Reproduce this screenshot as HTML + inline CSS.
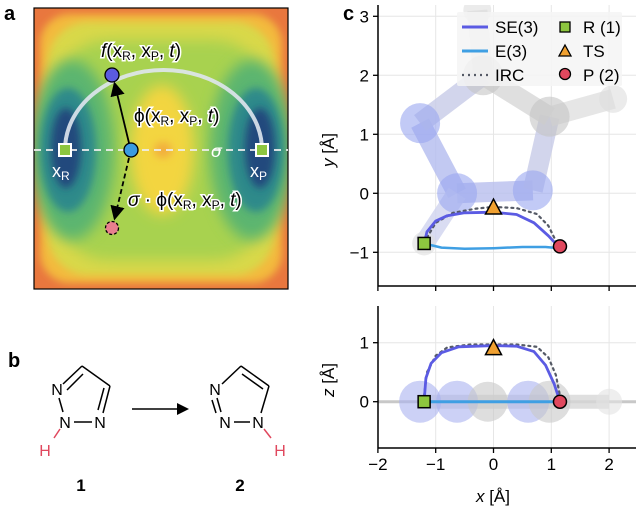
<!DOCTYPE html>
<html><head><meta charset="utf-8"><style>
body{margin:0;background:#fff;}
svg{display:block;font-family:"Liberation Sans","DejaVu Sans",sans-serif;}
</style></head><body>
<svg id="fig" width="636" height="510" viewBox="0 0 636 510" xmlns="http://www.w3.org/2000/svg">
<defs>
<filter id="bl" x="-50%" y="-50%" width="200%" height="200%"><feGaussianBlur stdDeviation="7"/></filter>
<filter id="bl2" x="-50%" y="-50%" width="200%" height="200%"><feGaussianBlur stdDeviation="4"/></filter>
<clipPath id="clipA"><rect x="34" y="8" width="254" height="281"/></clipPath>
<clipPath id="clipT"><rect x="378" y="5" width="258" height="281"/></clipPath>
<clipPath id="clipB"><rect x="378" y="306" width="258" height="142"/></clipPath>
<marker id="ah" markerWidth="8" markerHeight="8" refX="6" refY="4" orient="auto"><path d="M0,0 L8,4 L0,8 Z" fill="#000"/></marker>
</defs>

<text x="4" y="20" font-size="20" font-weight="bold">a</text>
<g clip-path="url(#clipA)">
<rect x="34" y="8" width="254" height="281" fill="#e9773e"/>
<rect x="40" y="14" width="242" height="269" rx="30" fill="#f3b93e" filter="url(#bl2)"/>
<rect x="48" y="22" width="226" height="253" rx="40" fill="#d9d84a" filter="url(#bl2)"/>
<rect x="58" y="40" width="206" height="220" rx="50" fill="#a8d250" filter="url(#bl)"/>
<ellipse cx="72" cy="150" rx="42" ry="90" fill="#5cb570" filter="url(#bl)"/>
<ellipse cx="252" cy="150" rx="42" ry="90" fill="#5cb570" filter="url(#bl)"/>
<ellipse cx="68" cy="150" rx="28" ry="62" fill="#2f8a8a" filter="url(#bl2)"/>
<ellipse cx="256" cy="150" rx="28" ry="62" fill="#2f8a8a" filter="url(#bl2)"/>
<ellipse cx="66" cy="148" rx="15" ry="40" fill="#214a7d" filter="url(#bl2)"/>
<ellipse cx="260" cy="148" rx="15" ry="40" fill="#214a7d" filter="url(#bl2)"/>
<ellipse cx="162" cy="150" rx="32" ry="65" fill="#f3d53f" filter="url(#bl)"/>
<ellipse cx="163" cy="150" rx="9" ry="8" fill="#f2ae3e" filter="url(#bl2)"/>
</g>
<rect x="34" y="8" width="254" height="281" fill="none" stroke="#000" stroke-width="1.2"/>
<line x1="34" y1="150" x2="288" y2="150" stroke="#eee" stroke-width="1.8" stroke-dasharray="7,5"/>
<path d="M65,150 A98.5,80 0 0 1 262,150" fill="none" stroke="#dfe6ee" stroke-width="4" opacity="0.9"/>
<rect x="59" y="144" width="12" height="12" fill="#8dc63f" stroke="#fff" stroke-width="2"/>
<rect x="256" y="144" width="12" height="12" fill="#8dc63f" stroke="#fff" stroke-width="2"/>
<text x="52" y="177" font-size="18" fill="#fff">x<tspan font-size="12" dy="3">R</tspan></text>
<text x="250" y="177" font-size="18" fill="#fff">x<tspan font-size="12" dy="3">P</tspan></text>
<text x="211" y="157" font-size="18" font-style="italic" fill="#fff">σ</text>
<line x1="129" y1="143" x2="115" y2="85" stroke="#000" stroke-width="1.8" marker-end="url(#ah)"/>
<line x1="129" y1="158" x2="115" y2="217" stroke="#000" stroke-width="1.8" stroke-dasharray="5,3" marker-end="url(#ah)"/>
<circle cx="112" cy="75" r="7" fill="#5b5be0" stroke="#000" stroke-width="1.3"/>
<circle cx="131" cy="150" r="7" fill="#3b9be0" stroke="#000" stroke-width="1.3"/>
<circle cx="112" cy="228" r="6.5" fill="#e8808e" stroke="#000" stroke-width="1.3" stroke-dasharray="3,2"/>
<g font-size="19" fill="#000" stroke="#fff" stroke-width="3" paint-order="stroke">
<text x="101" y="57"><tspan font-style="italic">f</tspan>(x<tspan font-size="12" dy="3">R</tspan><tspan dy="-3">, x</tspan><tspan font-size="12" dy="3">P</tspan><tspan dy="-3">, </tspan><tspan font-style="italic">t</tspan>)</text>
<text x="134" y="122">ϕ(x<tspan font-size="12" dy="3">R</tspan><tspan dy="-3">, x</tspan><tspan font-size="12" dy="3">P</tspan><tspan dy="-3">, </tspan><tspan font-style="italic">t</tspan>)</text>
<text x="128" y="206"><tspan font-style="italic">σ</tspan> · ϕ(x<tspan font-size="12" dy="3">R</tspan><tspan dy="-3">, x</tspan><tspan font-size="12" dy="3">P</tspan><tspan dy="-3">, </tspan><tspan font-style="italic">t</tspan>)</text>
</g>

<text x="8" y="367" font-size="20" font-weight="bold">b</text>
<g stroke="#000" stroke-width="1.5" fill="none">
<line x1="63" y1="384" x2="82" y2="366"/><line x1="67" y1="390" x2="83" y2="374"/>
<line x1="82" y1="366" x2="110" y2="386"/>
<line x1="110" y1="386" x2="103" y2="413"/><line x1="104" y1="388" x2="98" y2="410"/>
<line x1="74" y1="422" x2="92" y2="422"/>
<line x1="59" y1="398" x2="63" y2="412"/>
<line x1="60" y1="429" x2="54" y2="438" stroke="#e0485e"/>
</g>
<g font-size="16" text-anchor="middle">
<text x="57" y="395">N</text><text x="65" y="428">N</text><text x="100" y="428">N</text>
<text x="45" y="456" fill="#e0485e">H</text>
<text x="215" y="395">N</text><text x="225" y="428">N</text><text x="258" y="428">N</text>
<text x="280" y="456" fill="#e0485e">H</text>
<text x="81" y="491" font-weight="bold" font-size="17">1</text>
<text x="240" y="491" font-weight="bold" font-size="17">2</text>
</g>
<g stroke="#000" stroke-width="1.5" fill="none">
<line x1="222" y1="384" x2="241" y2="366"/>
<line x1="241" y1="366" x2="269" y2="386"/><line x1="242" y1="374" x2="263" y2="389"/>
<line x1="269" y1="386" x2="261" y2="413"/>
<line x1="234" y1="422" x2="250" y2="422"/>
<line x1="217" y1="398" x2="221" y2="412"/><line x1="212" y1="400" x2="216" y2="413"/>
<line x1="264" y1="429" x2="271" y2="438" stroke="#e0485e"/>
</g>
<line x1="132" y1="409" x2="186" y2="409" stroke="#000" stroke-width="1.5" marker-end="url(#ah)"/>

<text x="343" y="20" font-size="20" font-weight="bold">c</text>
<g id="topPlot"></g>
<g id="botPlot"></g>
</svg>
<script>
const NS='http://www.w3.org/2000/svg';
const xTicks=[-2,-1,0,1,2];
const yTicksTop=[-1,0,1,2,3];
const yTicksBot=[0,1];
const seXY_x=[-1.2,-1.15,-1.0,-0.8,-0.5,0,0.4,0.7,0.95,1.15];
const seXY_y=[-0.85,-0.65,-0.47,-0.38,-0.33,-0.32,-0.36,-0.5,-0.72,-0.93];
const e3XY_x=[-1.2,-0.9,-0.5,0,0.5,0.9,1.15];
const e3XY_y=[-0.85,-0.92,-0.94,-0.93,-0.91,-0.91,-0.93];
const ircXY_x=[-1.15,-1.0,-0.7,-0.3,0,0.4,0.75,0.95,1.1];
const ircXY_y=[-0.75,-0.5,-0.33,-0.26,-0.23,-0.25,-0.35,-0.55,-0.85];
const seXZ_x=[-1.2,-1.17,-1.08,-0.9,-0.6,0,0.4,0.7,0.9,1.05,1.15];
const seXZ_z=[0,0.4,0.65,0.83,0.93,0.95,0.94,0.85,0.62,0.3,0];
const e3XZ_x=[-1.2,0,1.15];
const e3XZ_z=[0,0,0];
const ircXZ_x=[-1.2,-1.15,-1.0,-0.8,-0.4,0,0.4,0.75,0.95,1.08,1.15];
const ircXZ_z=[0.1,0.5,0.78,0.92,0.97,0.97,0.97,0.93,0.75,0.45,0.1];
const rPt=[-1.2,-0.85], tsPt=[0,-0.25], pPt=[1.15,-0.9];
const rPtZ=[-1.2,0], tsPtZ=[0,0.9], pPtZ=[1.15,0];

const X=v=>493.5+v*57.8;
const Yt=v=>193.3-v*59;
const Yb=v=>401.7-v*59;

function el(tag,attrs,parent){const e=document.createElementNS(NS,tag);for(const k in attrs)e.setAttribute(k,attrs[k]);parent.appendChild(e);return e;}
function pathD(xs,ys,Y){return xs.map((x,i)=>(i?'L':'M')+X(x).toFixed(1)+','+Y(ys[i]).toFixed(1)).join(' ');}

function grid(g,Y,yTicks,y0,y1){
  const gg=el('g',{},g);
  xTicks.forEach(t=>{el('line',{x1:X(t),x2:X(t),y1:y0,y2:y1,stroke:'#e6e6e6','stroke-width':1},gg);});
  yTicks.forEach(t=>{el('line',{x1:378,x2:636,y1:Y(t),y2:Y(t),stroke:'#e6e6e6','stroke-width':1},gg);});
}
function spines(g,Y,yTicks,y0,y1,ylabel,showXLabels,ylabY){
  el('line',{x1:378,x2:378,y1:y0,y2:y1,stroke:'#000','stroke-width':1.5},g);
  el('line',{x1:378,x2:636,y1:y1,y2:y1,stroke:'#000','stroke-width':1.5},g);
  xTicks.forEach(t=>{
    el('line',{x1:X(t),x2:X(t),y1:y1,y2:y1+5,stroke:'#000','stroke-width':1.3},g);
    if(showXLabels){const tx=el('text',{x:X(t),y:y1+22,'font-size':17,'text-anchor':'middle'},g);tx.textContent=(t<0?'\u2212'+(-t):String(t));
      
      }
  });
  yTicks.forEach(t=>{
    el('line',{x1:373,x2:378,y1:Y(t),y2:Y(t),stroke:'#000','stroke-width':1.3},g);
    const tx=el('text',{x:369,y:Y(t)+6,'font-size':17,'text-anchor':'end'},g);tx.textContent=(t<0?'\u2212'+(-t):String(t));
    
    
  });
  const yl=el('text',{x:0,y:0,'font-size':17,'text-anchor':'middle',transform:'translate(334,'+ylabY+') rotate(-90)'},g);
  const ts=el('tspan',{'font-style':'italic'},yl);ts.textContent=ylabel;
  const ts2=el('tspan',{},yl);ts2.textContent=' [Å]';
  
  
}
function atom(g,cx,cy,r,c){el('circle',{cx:cx,cy:cy,r:r,fill:c,opacity:0.6},g);}
function series(g,xs,ys,Y,stroke,w,dash,name){
  const p=el('path',{d:pathD(xs,ys,Y),fill:'none',stroke:stroke,'stroke-width':w,'stroke-linecap':'round','stroke-linejoin':'round'},g);
  if(dash)p.setAttribute('stroke-dasharray',dash);
  
  
}
function markers(g,r,ts,p,Y){
  const a=el('rect',{x:X(r[0])-6,y:Y(r[1])-6,width:12,height:12,fill:'#8dc63f',stroke:'#000','stroke-width':1.5},g);
  
  
  const cx=X(ts[0]),cy=Y(ts[1]);
  const b=el('path',{d:'M'+cx+','+(cy-9)+' L'+(cx+8)+','+(cy+6)+' L'+(cx-8)+','+(cy+6)+' Z',fill:'#f0a030',stroke:'#000','stroke-width':1.5},g);
  
  
  const c=el('circle',{cx:X(p[0]),cy:Y(p[1]),r:6.5,fill:'#e0485e',stroke:'#000','stroke-width':1.5},g);
  
  
}

const topG=document.getElementById('topPlot');
grid(topG,Yt,yTicksTop,5,286);
const molT=el('g',{'clip-path':'url(#clipT)'},topG);


[[X(-1.27),Yt(1.19),X(-0.63),Yt(0),'#b4bcf0'],[X(-0.63),Yt(0),X(0.68),Yt(0.05),'#b8bfee'],[X(0.68),Yt(0.05),X(0.97),Yt(1.3),'#c8cbe8'],[X(0.97),Yt(1.3),X(-0.18),Yt(2.0),'#d8d8d8'],[X(-1.27),Yt(1.19),X(-0.18),Yt(2.0),'#c8cbe8'],[X(-0.18),Yt(2.0),X(-0.28),Yt(3.1),'#e0e0e0'],[X(0.97),Yt(1.3),X(2.07),Yt(1.6),'#e0e0e0'],[X(-0.63),Yt(0),X(-1.2),Yt(-0.85),'#d0d4f0']].forEach(b=>{
  el('line',{x1:b[0],y1:b[1],x2:b[2],y2:b[3],stroke:b[4],'stroke-width':20,opacity:0.8},molT);});
atom(molT,X(-1.27),Yt(1.19),20,'#9aa6f0');
atom(molT,X(-0.63),Yt(0),20,'#9aa6f0');
atom(molT,X(0.68),Yt(0.05),20,'#9aa6f0');
atom(molT,X(0.97),Yt(1.3),20,'#c4c4c4');
atom(molT,X(-0.18),Yt(2.0),20,'#c4c4c4');
atom(molT,X(-0.28),Yt(3.1),14,'#dedede');
atom(molT,X(2.07),Yt(1.6),14,'#dedede');
atom(molT,X(-1.2),Yt(-0.85),12,'#dedede');
series(topG,ircXY_x,ircXY_y,Yt,'#555a66',2.2,'2,4','irc-xy-line');
series(topG,e3XY_x,e3XY_y,Yt,'#3f9fe3',2.5,null,'e3-xy-line');
series(topG,seXY_x,seXY_y,Yt,'#5b5be3',2.8,null,'se3-xy-line');
markers(topG,rPt,tsPt,pPt,Yt);
spines(topG,Yt,yTicksTop,5,286,'y',false,150);

const lg=el('g',{},topG);


el('rect',{x:457,y:12,width:165,height:74,fill:'#f4f4f4',opacity:0.85,rx:2},lg);
[['SE(3)','#5b5be3',null],['E(3)','#3f9fe3',null],['IRC','#555a66','2,4']].forEach((d,i)=>{
  const y=27+i*24;
  const l=el('line',{x1:462,x2:488,y1:y,y2:y,stroke:d[1],'stroke-width':d[2]?2.2:3},lg);
  if(d[2])l.setAttribute('stroke-dasharray',d[2]);
  const t=el('text',{x:495,y:y+6,'font-size':17},lg);t.textContent=d[0];
  
  
});
el('rect',{x:560,y:22,width:10,height:10,fill:'#8dc63f',stroke:'#000','stroke-width':1.3},lg);
el('path',{d:'M565,45 L571,56 L559,56 Z',fill:'#f0a030',stroke:'#000','stroke-width':1.3},lg);
el('circle',{cx:565,cy:74,r:5.5,fill:'#e0485e',stroke:'#000','stroke-width':1.3},lg);
['R (1)','TS','P (2)'].forEach((s,i)=>{const t=el('text',{x:583,y:33+i*24,'font-size':17},lg);t.textContent=s;
  
  });

const botG=document.getElementById('botPlot');
grid(botG,Yb,yTicksBot,306,448);
const molB=el('g',{'clip-path':'url(#clipB)'},botG);


el('line',{x1:378,x2:636,y1:Yb(0),y2:Yb(0),stroke:'#c8c8c8','stroke-width':3},molB);
el('line',{x1:X(-1.3),x2:X(2.0),y1:Yb(0),y2:Yb(0),stroke:'#d8d8d8','stroke-width':14,opacity:0.8},molB);
atom(molB,X(-1.27),Yb(0),21,'#aab2f0');
atom(molB,X(-0.63),Yb(0),21,'#aab2f0');
atom(molB,X(-0.1),Yb(0),20,'#c8c8c8');
atom(molB,X(0.6),Yb(0),21,'#aab2f0');
atom(molB,X(0.97),Yb(0),21,'#c8c8c8');
atom(molB,X(2.0),Yb(0),13,'#e2e2e2');
series(botG,ircXZ_x,ircXZ_z,Yb,'#555a66',2.2,'2,4','irc-xz-line');
series(botG,e3XZ_x,e3XZ_z,Yb,'#3f9fe3',3,null,'e3-xz-line');
series(botG,seXZ_x,seXZ_z,Yb,'#5b5be3',2.8,null,'se3-xz-line');
markers(botG,rPtZ,tsPtZ,pPtZ,Yb);
spines(botG,Yb,yTicksBot,306,448,'z',true,380);
const xl=el('text',{x:493,y:502,'font-size':17,'text-anchor':'middle'},botG);
const xs1=el('tspan',{'font-style':'italic'},xl);xs1.textContent='x';
const xs2=el('tspan',{},xl);xs2.textContent=' [Å]';


</script>
</body></html>
